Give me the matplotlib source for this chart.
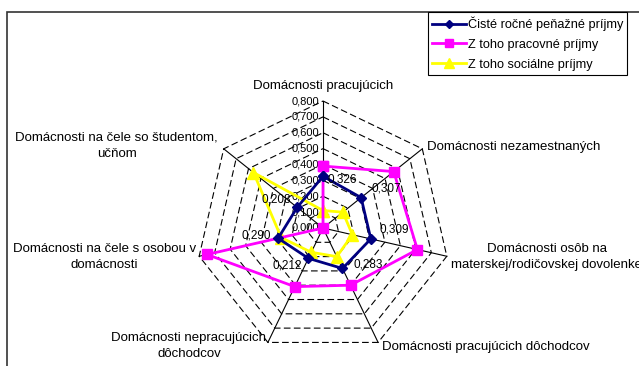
import matplotlib.pyplot as plt
import numpy as np
from matplotlib.patches import Rectangle

plt.rcParams['font.family'] = ['Liberation Sans', 'DejaVu Sans']

categories = [
    "Domácnosti pracujúcich",
    "Domácnosti nezamestnaných",
    "Domácnosti osôb na\nmaterskej/rodičovskej dovolenke",
    "Domácnosti pracujúcich dôchodcov",
    "Domácnosti nepracujúcich\ndôchodcov",
    "Domácnosti na čele s osobou v\ndomácnosti",
    "Domácnosti na čele so študentom,\nučňom",
]
ciste_prijmy = [0.326, 0.307, 0.309, 0.283, 0.212, 0.290, 0.208]
pracovne_prijmy = [0.39, 0.57, 0.61, 0.40, 0.41, 0.75, 0.0]
socialne_prijmy = [0.11, 0.16, 0.19, 0.20, 0.17, 0.27, 0.56]
series_names = ["Čisté ročné peňažné príjmy", "Z toho pracovné príjmy", "Z toho sociálne príjmy"]
r_ticks = [0.0, 0.1, 0.2, 0.3, 0.4, 0.5, 0.6, 0.7, 0.8]

W, H = 639, 366
fig = plt.figure(figsize=(W / 100, H / 100), dpi=100)

# radar centre ~ (323, 228) px, outer ring radius 127 px
cx, cy, rad = 323, 228, 127
ax = fig.add_axes([(cx - rad) / W, (H - cy - rad) / H, 2 * rad / W, 2 * rad / H], projection='polar')
ax.set_theta_zero_location('N')
ax.set_theta_direction(-1)
ax.set_ylim(0, 0.8)
ax.grid(False)
ax.set_xticks([])
ax.set_yticks([])
ax.spines['polar'].set_visible(False)
ax.patch.set_alpha(0)

n = len(categories)
theta = np.arange(n) * 2 * np.pi / n
theta_c = np.append(theta, theta[0])

# dashed polygon grid and solid spokes
for r in r_ticks[1:]:
    ax.plot(theta_c, [r] * (n + 1), color='black', lw=0.8, dashes=(6, 3), clip_on=False, zorder=1)
for t in theta:
    ax.plot([t, t], [0, 0.8], color='black', lw=0.8, clip_on=False, zorder=1)

# radial tick labels along the top spoke
for r in r_ticks:
    ax.annotate(f"{r:.3f}".replace('.', ','), xy=(0, r), xytext=(-3, 0), textcoords='offset points',
                ha='right', va='center', fontsize=8, zorder=2)

def closed(v):
    return list(v) + [v[0]]

ax.plot(theta_c, closed(ciste_prijmy), color='#000080', lw=2, marker='D', ms=5, clip_on=False, zorder=5,
        label=series_names[0])
ax.plot(theta_c, closed(pracovne_prijmy), color='#FF00FF', lw=2, marker='s', ms=7, clip_on=False, zorder=4,
        label=series_names[1])
ax.plot(theta_c, closed(socialne_prijmy), color='#FFFF00', lw=2, marker='^', ms=8, clip_on=False, zorder=3,
        label=series_names[2])

# value labels for the first series (offsets in px)
lbl_off = [(19, -3), (25, 9), (23, 9), (26, 4), (-21, -7), (-22, 3), (-21, 8)]
for t, v, (dx, dy) in zip(theta, ciste_prijmy, lbl_off):
    ax.annotate(f"{v:.3f}".replace('.', ','), xy=(t, v), xytext=(dx * 0.72, dy * 0.72),
                textcoords='offset points', ha='center', va='center', fontsize=8.5, zorder=6)

# category labels around the outer ring (offsets in px)
cat_pos = [((0, 15), 'center'), ((5, 2), 'left'), ((100, -1), 'center'), ((4, -5), 'left'),
           ((-79, -4), 'center'), ((-95, -1), 'center'), ((-107, 3), 'center')]
for t, name, ((dx, dy), ha) in zip(theta, categories, cat_pos):
    ax.annotate(name, xy=(t, 0.8), xytext=(dx * 0.72, dy * 0.72), textcoords='offset points',
                ha=ha, va='center', multialignment='center', fontsize=9.5, linespacing=1.45,
                annotation_clip=False)

# chart area border (only top and left edges fall inside the image)
fig.patches.append(Rectangle((7 / W, -0.1), 1.2, 1 - 12 / H + 0.1, transform=fig.transFigure,
                             fill=False, edgecolor='#333333', lw=1.2))

leg = fig.legend(loc='upper left', bbox_to_anchor=(428 / W, 1 - 12 / H), fontsize=9.2,
                 frameon=True, fancybox=False, edgecolor='black', framealpha=1,
                 borderpad=0.35, labelspacing=0.62, handlelength=2.6, handletextpad=0.15,
                 borderaxespad=0, markerscale=0.85)
leg.get_frame().set_linewidth(0.8)

fig.savefig('out.png', dpi=100)
